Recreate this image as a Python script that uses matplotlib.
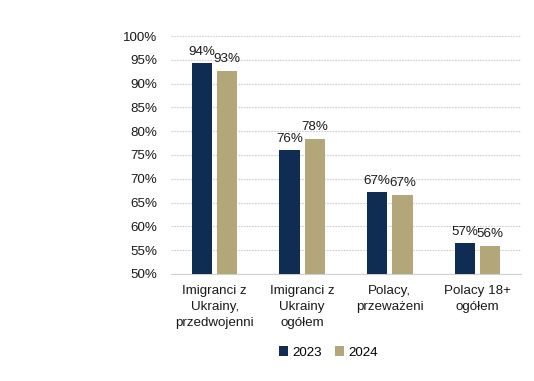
import matplotlib
matplotlib.use("Agg")
import matplotlib.pyplot as plt
import numpy as np

categories = ["Imigranci z\nUkrainy,\nprzedwojenni", "Imigranci z\nUkrainy\nogółem",
              "Polacy,\nprzeważeni", "Polacy 18+\nogółem"]
series_names = ["2023", "2024"]
values_2023 = [94.3, 76.0, 67.2, 56.4]
values_2024 = [92.7, 78.4, 66.6, 55.9]
labels_2023 = ["94%", "76%", "67%", "57%"]
labels_2024 = ["93%", "78%", "67%", "56%"]
yticks = [50, 55, 60, 65, 70, 75, 80, 85, 90, 95, 100]

c2023 = "#0F2D52"
c2024 = "#B3A77A"
fs = 9.6

plt.rcParams['font.family'] = ['Liberation Sans', 'DejaVu Sans']
fig = plt.figure(figsize=(5.34, 3.81), dpi=100)
ax = fig.add_axes([0.32, 0.281, 0.656, 0.6245])

x = np.arange(len(categories))
w = 0.23
gap = 0.06
off = (w + gap) / 2
b1 = ax.bar(x - off, values_2023, w, color=c2023, label=series_names[0], zorder=3)
b2 = ax.bar(x + off, values_2024, w, color=c2024, label=series_names[1], zorder=3)

for bars, labs in ((b1, labels_2023), (b2, labels_2024)):
    for r, t in zip(bars, labs):
        ax.annotate(t, (r.get_x() + r.get_width() / 2, r.get_height()),
                    xytext=(0, 4), textcoords="offset points",
                    ha="center", va="bottom", fontsize=fs, color="#1a1a1a")

ax.set_ylim(50, 100)
ax.set_xlim(-0.5, len(categories) - 0.5)
ax.set_yticks(yticks)
ax.set_yticklabels([f"{v}%" for v in yticks])
ax.set_xticks(x)
ax.set_xticklabels(categories, linespacing=1.45)
ax.tick_params(axis='both', length=0, labelsize=fs, colors="#1a1a1a")
ax.tick_params(axis='y', pad=10)
ax.tick_params(axis='x', pad=8)
ax.grid(axis='y', color="#CFCFCF", linestyle=(0, (1.5, 1)), linewidth=0.8, zorder=0)
for s in ["top", "right", "left"]:
    ax.spines[s].set_visible(False)
ax.spines["bottom"].set_color("#CFCFCF")
ax.spines["bottom"].set_linewidth(0.8)

fig.legend(handles=[b1, b2], labels=series_names, loc="center", bbox_to_anchor=(0.615, 0.075),
           ncol=2, frameon=False, fontsize=fs, handlelength=0.7, handleheight=0.7,
           handletextpad=0.3, columnspacing=1.0)

fig.savefig("out.png", dpi=100)
